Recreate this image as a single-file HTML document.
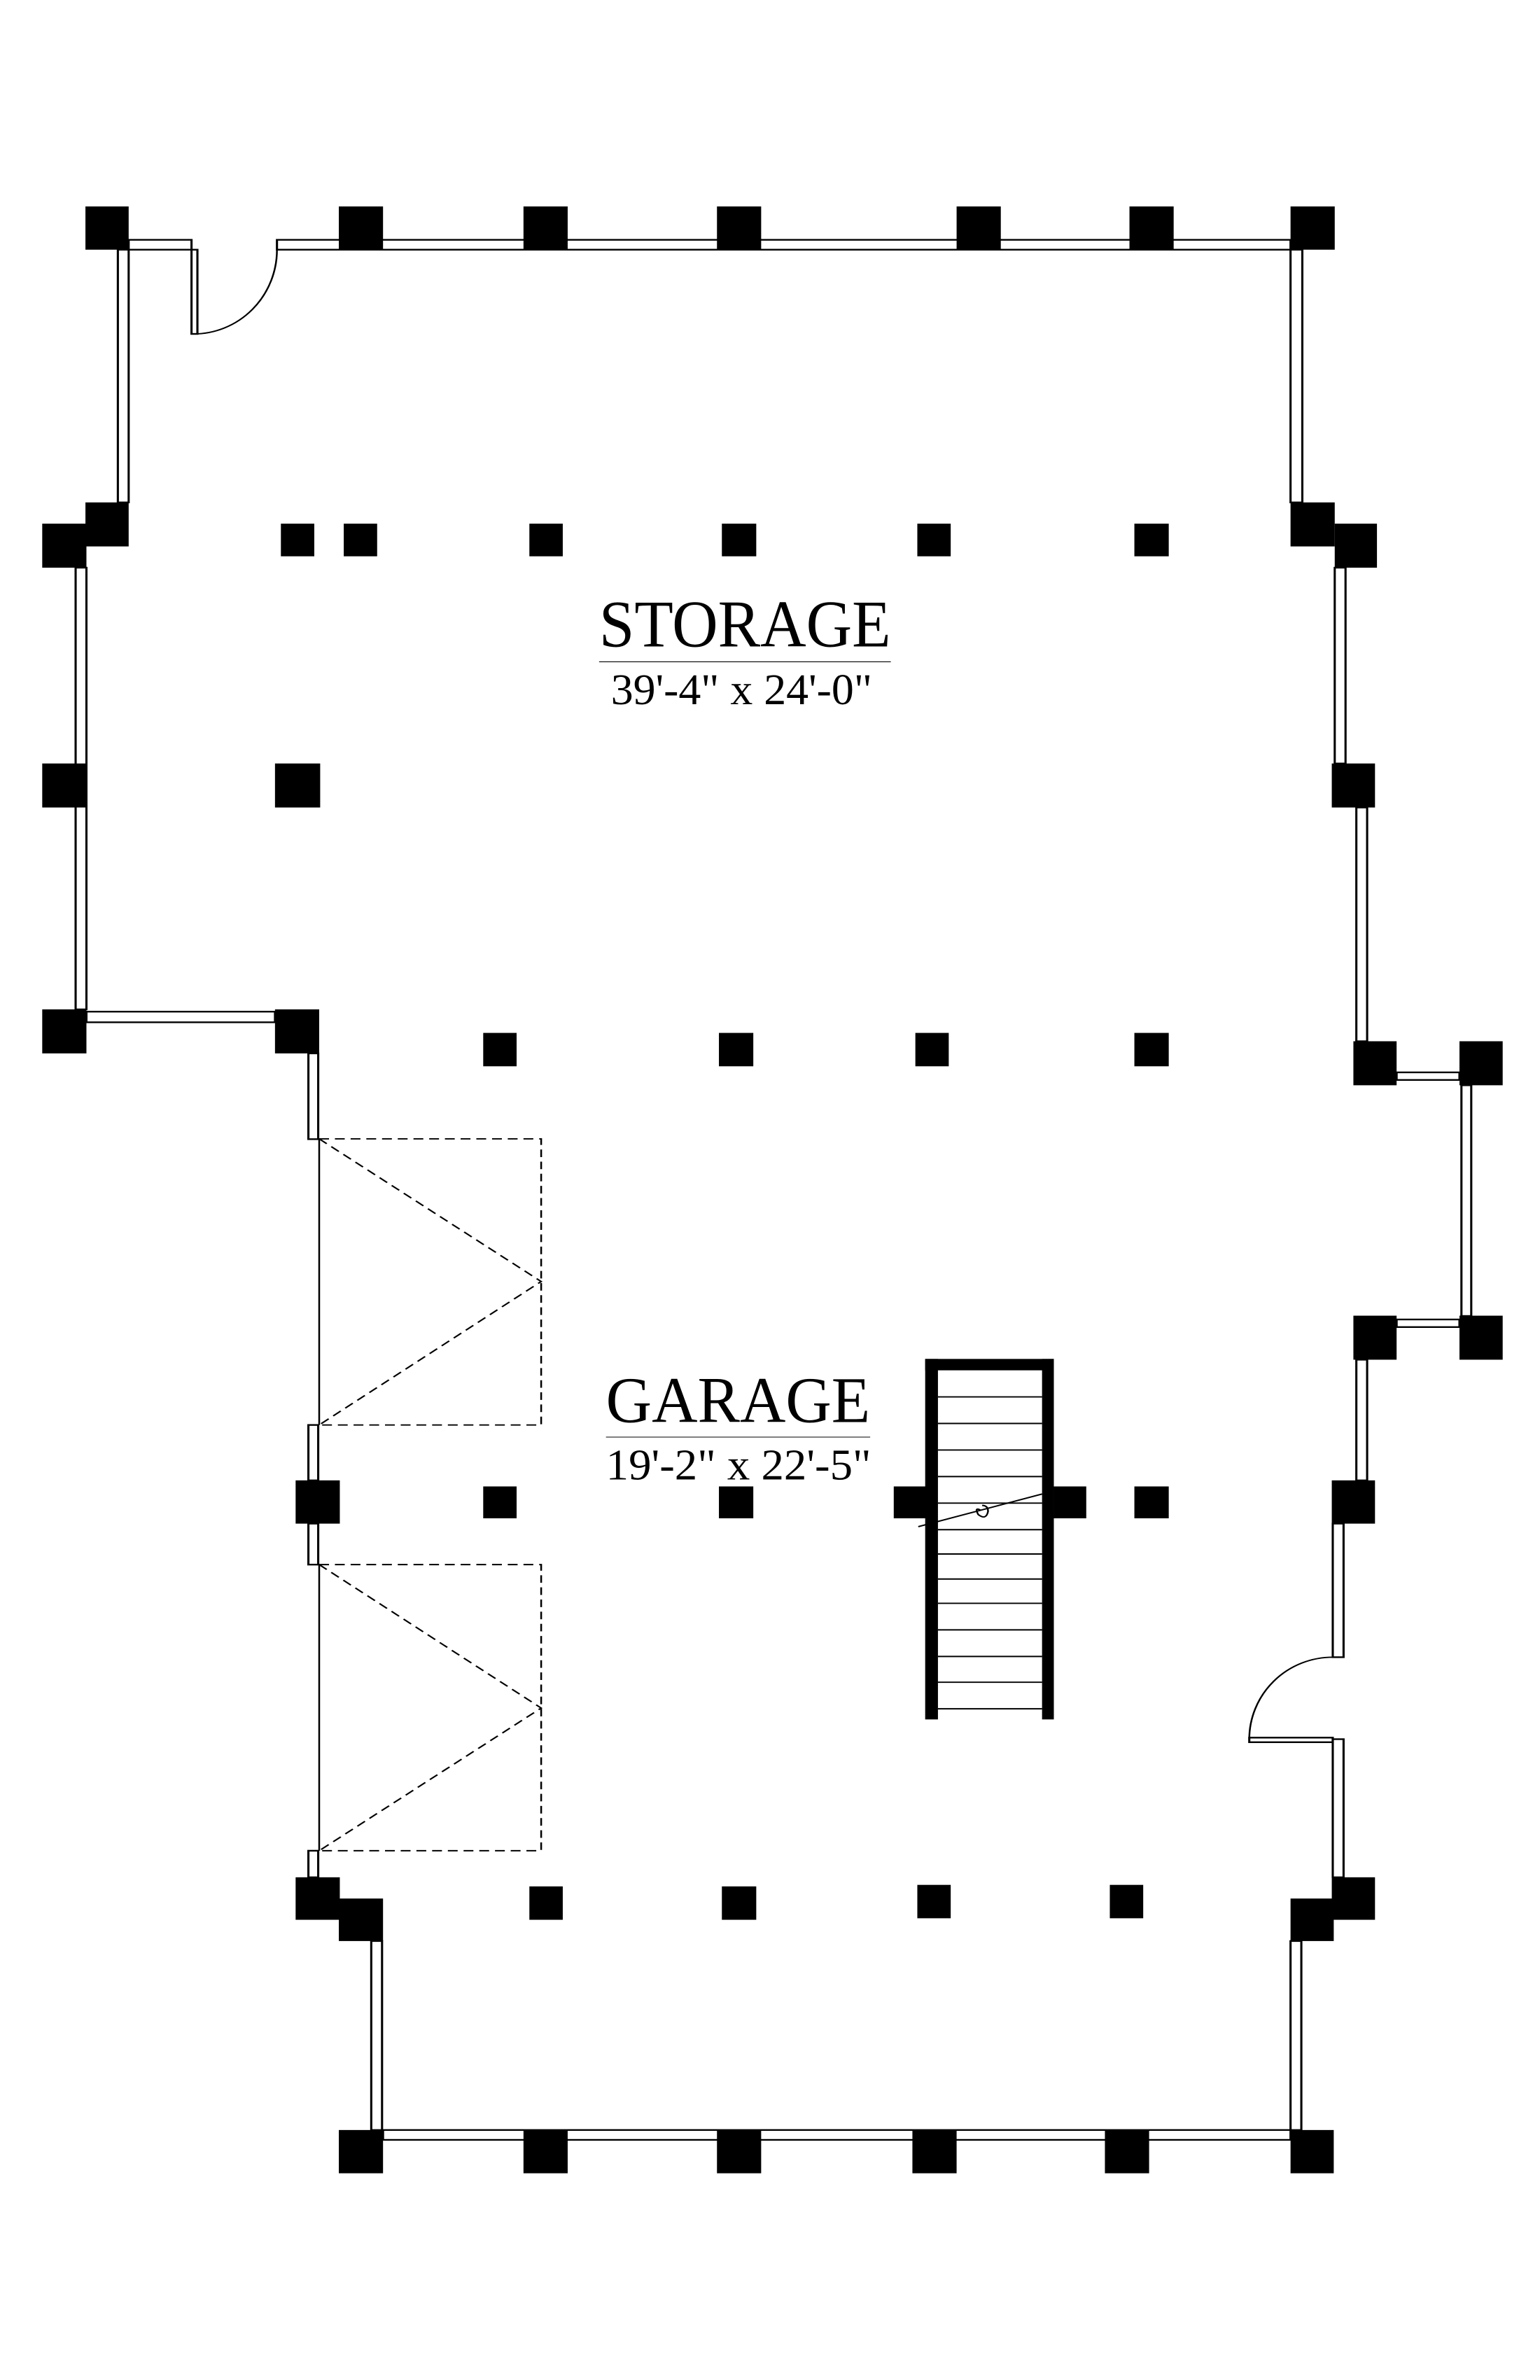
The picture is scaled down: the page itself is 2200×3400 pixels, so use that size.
<!DOCTYPE html>
<html><head><meta charset="utf-8"><style>html,body{margin:0;padding:0;background:#fff}svg{display:block}</style></head>
<body>
<svg width="2200" height="3400" viewBox="0 0 1568 3136" preserveAspectRatio="none" xmlns="http://www.w3.org/2000/svg">
<rect x="0" y="0" width="1568" height="3136" fill="#fff"/>
<g fill="#fff" stroke="#000" stroke-width="2.2">
<rect x="131" y="316" width="64" height="13"/>
<rect x="282" y="316" width="1032" height="13"/>
<rect x="195" y="329" width="6" height="111"/>
<rect x="120" y="329" width="11" height="333"/>
<rect x="77" y="748" width="11" height="582"/>
<rect x="88" y="1333" width="192" height="14"/>
<rect x="1314" y="329" width="12" height="333"/>
<rect x="1359" y="748" width="11" height="258"/>
<rect x="1381" y="1064" width="11" height="308"/>
<rect x="1422" y="1413" width="64" height="10"/>
<rect x="1488" y="1430" width="10" height="304"/>
<rect x="314" y="1388" width="10" height="113"/>
<g transform="translate(0,1383.6)">
<rect x="1422" y="355" width="64" height="10"/>
<rect x="1381" y="408" width="11" height="159"/>
<rect x="1357" y="624" width="11" height="176"/>
<rect x="1272" y="906" width="85" height="6"/>
<rect x="1357" y="908" width="11" height="182"/>
<rect x="1314" y="1174" width="11" height="249"/>
<rect x="390" y="1423" width="924" height="13"/>
<rect x="378" y="1174" width="11" height="249"/>
<rect x="314" y="494" width="10" height="73"/>
<rect x="314" y="624" width="10" height="54"/>
<rect x="314" y="1055" width="10" height="35"/>
</g>
</g>
<g fill="none" stroke="#000" stroke-width="1.8">
<path d="M282 329 A 85 111 0 0 1 197 440"/>
<g transform="translate(0,1383.6)">
<path d="M1357 800 A 85 108 0 0 0 1272 908"/>
<line x1="325" y1="117" x2="325" y2="494"/>
<line x1="325" y1="678" x2="325" y2="1055"/>
<g stroke-dasharray="10,6">
<path d="M325 117 H551 V494 H325"/>
<path d="M325 117 L551 305 L325 494"/>
<path d="M325 678 H551 V1055 H325"/>
<path d="M325 678 L551 867 L325 1055"/>
</g>
</g>
</g>
<g fill="#000">
<rect x="87" y="272" width="44" height="57"/>
<rect x="345" y="272" width="45" height="57"/>
<rect x="533" y="272" width="45" height="57"/>
<rect x="730" y="272" width="45" height="57"/>
<rect x="974" y="272" width="45" height="57"/>
<rect x="1150" y="272" width="45" height="57"/>
<rect x="1314" y="272" width="45" height="57"/>
<rect x="87" y="662" width="44" height="58"/>
<rect x="43" y="690" width="45" height="58"/>
<rect x="43" y="1006" width="45" height="58"/>
<rect x="43" y="1330" width="45" height="58"/>
<rect x="280" y="1330" width="45" height="58"/>
<rect x="280" y="1006" width="46" height="58"/>
<rect x="286" y="690" width="34" height="43"/>
<rect x="350" y="690" width="34" height="43"/>
<rect x="539" y="690" width="34" height="43"/>
<rect x="735" y="690" width="35" height="43"/>
<rect x="934" y="690" width="34" height="43"/>
<rect x="1155" y="690" width="35" height="43"/>
<rect x="1314" y="662" width="45" height="58"/>
<rect x="1359" y="690" width="43" height="58"/>
<rect x="1356" y="1006" width="44" height="58"/>
<rect x="1378" y="1372" width="44" height="58"/>
<rect x="1486" y="1372" width="44" height="58"/>
<rect x="492" y="1361" width="34" height="44"/>
<rect x="732" y="1361" width="35" height="44"/>
<rect x="932" y="1361" width="34" height="44"/>
<rect x="1155" y="1361" width="35" height="44"/>
<g transform="translate(0,1383.6)">
<rect x="1378" y="350" width="44" height="58"/>
<rect x="1486" y="350" width="44" height="58"/>
<rect x="1356" y="567" width="44" height="57"/>
<rect x="1356" y="1090" width="44" height="56"/>
<rect x="1314" y="1118" width="44" height="56"/>
<rect x="301" y="1090" width="45" height="56"/>
<rect x="345" y="1118" width="45" height="56"/>
<rect x="301" y="567" width="45" height="57"/>
<rect x="492" y="575" width="34" height="42"/>
<rect x="732" y="575" width="35" height="42"/>
<rect x="1155" y="575" width="35" height="42"/>
<rect x="910" y="575" width="35" height="42"/>
<rect x="1073" y="575" width="33" height="42"/>
<rect x="539" y="1102" width="34" height="44"/>
<rect x="735" y="1102" width="35" height="44"/>
<rect x="934" y="1100" width="34" height="44"/>
<rect x="1130" y="1100" width="34" height="44"/>
<rect x="345" y="1423" width="45" height="57"/>
<rect x="533" y="1423" width="45" height="57"/>
<rect x="730" y="1423" width="45" height="57"/>
<rect x="929" y="1423" width="45" height="57"/>
<rect x="1125" y="1423" width="45" height="57"/>
<rect x="1314" y="1423" width="44" height="57"/>
<rect x="942" y="407" width="13" height="475"/>
<rect x="1061" y="407" width="12" height="475"/>
<rect x="942" y="407" width="131" height="15"/>
</g>
</g>
<g transform="translate(0,1383.6)" stroke="#000" stroke-width="1.8" fill="none">
<path d="M955 457H1061M955 492H1061M955 527H1061M955 562H1061M955 597H1061M955 632H1061M955 664H1061M955 697H1061M955 729H1061M955 764H1061M955 799H1061M955 833H1061M955 868H1061"/>
<line x1="935" y1="628" x2="1061" y2="585"/>
<path d="M998 606 q-6 -4 -2 6 q8 8 10 -4 q0 -8 -6 -8"/>
</g>
<g font-family="'Liberation Serif', serif" fill="#000">
<text x="610" y="852" font-size="88" textLength="297" lengthAdjust="spacingAndGlyphs">STORAGE</text>
<line x1="610" y1="872" x2="907" y2="872" stroke="#000" stroke-width="1"/>
<text x="622" y="928" font-size="58" textLength="266" lengthAdjust="spacingAndGlyphs">39'-4" x 24'-0"</text>
<g transform="translate(0,1383.6)">
<text x="617" y="490" font-size="86" textLength="269" lengthAdjust="spacingAndGlyphs">GARAGE</text>
<line x1="617" y1="510" x2="886" y2="510" stroke="#000" stroke-width="1"/>
<text x="617" y="566" font-size="58" textLength="270" lengthAdjust="spacingAndGlyphs">19'-2" x 22'-5"</text>
</g>
</g>
</svg>
</body></html>
